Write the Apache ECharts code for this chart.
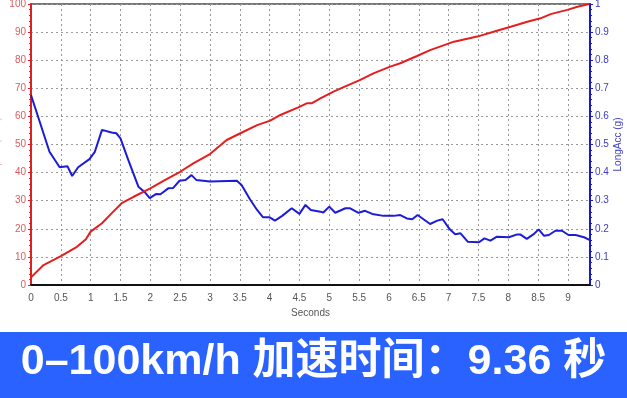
<!DOCTYPE html>
<html>
<head>
<meta charset="utf-8">
<script src="https://cdn.jsdelivr.net/npm/echarts@6/dist/echarts.min.js"></script>
<style>
  html, body { margin: 0; padding: 0; background: #fff; }
  #chart { width: 627px; height: 398px; }
</style>
</head>
<body>
<div id="chart"></div>
<script>
// 车速曲线 (km/h)
const speedTime = [0, 0.21, 0.5, 0.77, 0.92, 1.0, 1.19, 1.35, 1.52, 1.72, 2.0, 2.25, 2.5, 2.72, 3.0, 3.28, 3.51, 3.79, 4.01, 4.18, 4.48, 4.63, 4.71, 4.85, 5.07, 5.24, 5.52, 5.74, 6.02, 6.19, 6.47, 6.69, 7.09, 7.48, 7.81, 8.04, 8.32, 8.54, 8.71, 8.99, 9.16, 9.36]
const speedValues = [2.7, 7.1, 10.3, 13.6, 16.3, 19.0, 22.0, 25.5, 29.1, 31.4, 34.4, 37.4, 40.3, 43.3, 46.6, 51.6, 54.0, 56.9, 58.5, 60.5, 63.2, 64.7, 64.7, 66.4, 68.8, 70.4, 73.0, 75.3, 77.7, 78.9, 81.5, 83.6, 86.6, 88.4, 90.5, 91.9, 93.7, 94.9, 96.4, 97.9, 99.0, 100]

// 纵向加速度 (g)
const accTime = [0, 0.31, 0.48, 0.61, 0.69, 0.79, 0.98, 1.07, 1.19, 1.35, 1.43, 1.5, 1.63, 1.8, 1.9, 1.99, 2.1, 2.17, 2.3, 2.38, 2.49, 2.59, 2.69, 2.77, 3.0, 3.45, 3.53, 3.67, 3.79, 3.89, 4.0, 4.09, 4.21, 4.37, 4.4, 4.5, 4.6, 4.69, 4.85, 4.9, 5.0, 5.1, 5.27, 5.35, 5.49, 5.6, 5.72, 5.91, 6.08, 6.19, 6.3, 6.39, 6.48, 6.69, 6.81, 6.9, 7.02, 7.11, 7.2, 7.32, 7.51, 7.6, 7.7, 7.81, 8.01, 8.15, 8.2, 8.31, 8.42, 8.51, 8.6, 8.68, 8.79, 8.9, 9.01, 9.13, 9.27, 9.37]
const accValues = [0.676, 0.474, 0.419, 0.423, 0.388, 0.419, 0.448, 0.474, 0.552, 0.543, 0.54, 0.522, 0.445, 0.35, 0.332, 0.309, 0.324, 0.323, 0.344, 0.345, 0.371, 0.374, 0.391, 0.374, 0.368, 0.371, 0.356, 0.305, 0.267, 0.241, 0.241, 0.229, 0.246, 0.273, 0.275, 0.253, 0.285, 0.267, 0.261, 0.258, 0.279, 0.257, 0.273, 0.273, 0.257, 0.264, 0.253, 0.246, 0.246, 0.249, 0.237, 0.234, 0.249, 0.217, 0.229, 0.234, 0.198, 0.181, 0.184, 0.154, 0.152, 0.166, 0.158, 0.172, 0.17, 0.18, 0.18, 0.164, 0.18, 0.198, 0.175, 0.178, 0.193, 0.193, 0.178, 0.178, 0.17, 0.16]

const titleText = '0–100km/h 加速时间：9.36 秒'

const chart = echarts.init(document.getElementById('chart'))

const gridLine = { show: true, lineStyle: { color: '#999', type: [2, 3], width: 1 } }

const option = {
  animation: false,
  backgroundColor: '#fff',
  textStyle: { fontFamily: 'Liberation Sans, Arial, sans-serif' },
  grid: {
    left: 31,
    right: 37,
    top: 4,
    bottom: 113,
    outerBoundsMode: 'none',
    containLabel: false,
    show: true,
    borderColor: '#777',
    borderWidth: 2
  },
  graphic: [
    {
      type: 'rect',
      left: 0,
      top: 332,
      shape: { width: 627, height: 66 },
      style: { fill: '#2962ff' }
    },
    {
      type: 'text',
      left: 'center',
      top: 341,
      style: {
        text: titleText,
        fill: '#fff',
        font: 'bold 43px "Liberation Sans", "Noto Sans CJK SC", sans-serif'
      }
    }
  ],
  xAxis: {
    type: 'value',
    min: 0,
    max: 9.37,
    interval: 0.5,
    name: 'Seconds',
    nameLocation: 'middle',
    nameGap: 22,
    nameTextStyle: { color: '#555', fontSize: 10 },
    axisLine: { show: true, lineStyle: { color: '#111', width: 2 } },
    axisTick: { show: false },
    axisLabel: {
      color: '#555',
      fontSize: 10,
      margin: 8,
      showMaxLabel: false,
      formatter: v => String(Math.round(v * 10) / 10)
    },
    splitLine: gridLine
  },
  yAxis: [
    {
      type: 'value',
      min: 0,
      max: 100,
      interval: 10,
      position: 'left',
      name: 'Speed (km/h)',
      nameLocation: 'middle',
      nameRotate: 90,
      nameGap: 29,
      nameMoveOverlap: false,
      nameTextStyle: { color: '#f3b5b5', fontSize: 9 },
      axisLine: { show: true, lineStyle: { color: '#e02020', width: 2 } },
      axisTick: { show: true, length: 3, lineStyle: { color: '#e02020' } },
      minorTick: { show: true, splitNumber: 5, length: 2, lineStyle: { color: '#e02020' } },
      axisLabel: { color: '#d85c5c', fontSize: 10, margin: 5 },
      splitLine: gridLine
    },
    {
      type: 'value',
      min: 0,
      max: 1,
      interval: 0.1,
      position: 'right',
      name: 'LongAcc (g)',
      nameLocation: 'middle',
      nameRotate: 90,
      nameGap: 23,
      nameMoveOverlap: false,
      nameTextStyle: { color: '#4444cc', fontSize: 10 },
      axisLine: { show: true, lineStyle: { color: '#1a1acc', width: 2 } },
      axisTick: { show: true, length: 3, lineStyle: { color: '#1a1acc' } },
      minorTick: { show: true, splitNumber: 5, length: 2, lineStyle: { color: '#1a1acc' } },
      axisLabel: {
        color: '#3c3cc0',
        fontSize: 10,
        margin: 5,
        formatter: v => String(Math.round(v * 10) / 10)
      },
      splitLine: { show: false }
    }
  ],
  series: [
    {
      name: 'LongAcc',
      type: 'line',
      yAxisIndex: 1,
      showSymbol: false,
      lineStyle: { color: '#1c1cd8', width: 2 },
      data: accTime.map((t, i) => [t, accValues[i]]),
      z: 3
    },
    {
      name: 'Speed',
      type: 'line',
      yAxisIndex: 0,
      showSymbol: false,
      lineStyle: { color: '#e41e1e', width: 2 },
      data: speedTime.map((t, i) => [t, speedValues[i]]),
      z: 4
    }
  ]
}

chart.setOption(option)
</script>
</body>
</html>
